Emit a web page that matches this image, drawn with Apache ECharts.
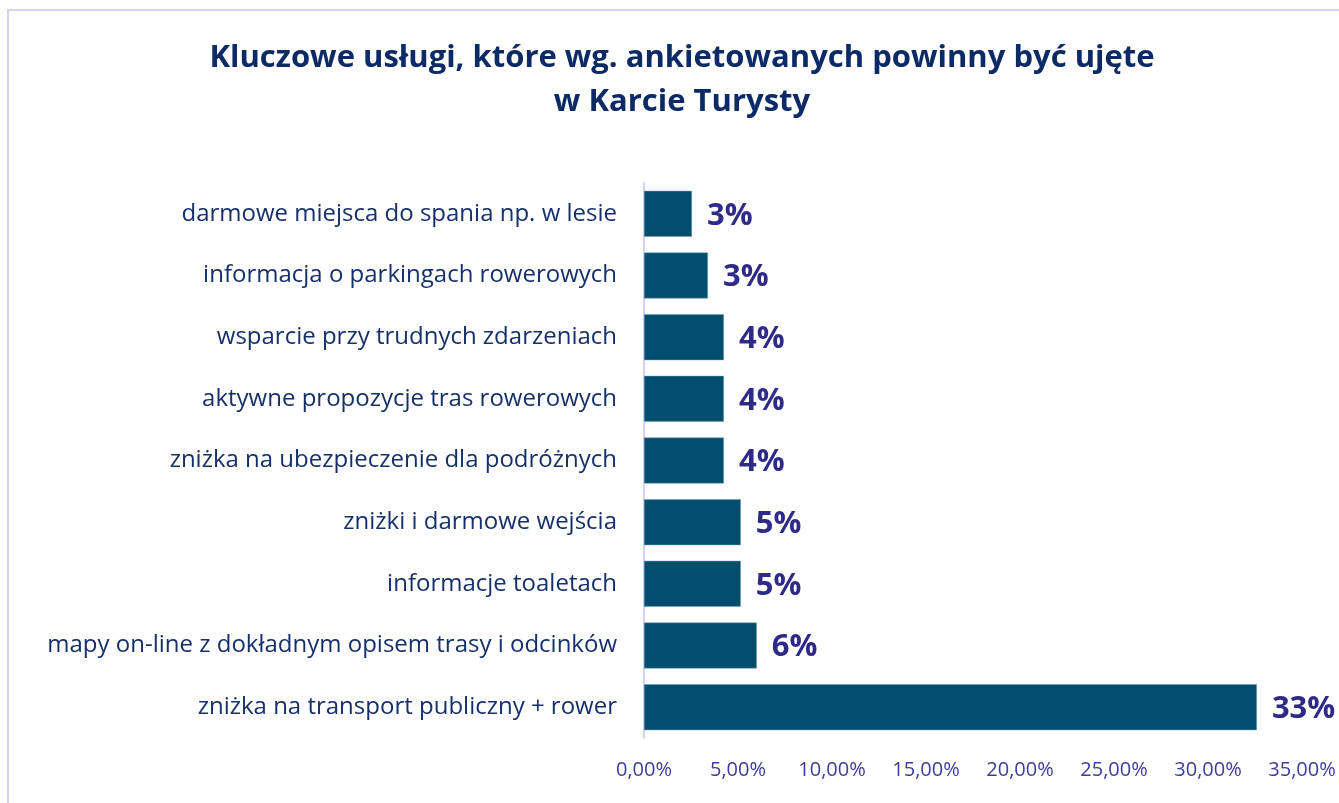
<!DOCTYPE html>
<html>
<head>
<meta charset="utf-8">
<script src="https://cdn.jsdelivr.net/npm/echarts@6/dist/echarts.min.js"></script>
<style>
  html, body { margin: 0; padding: 0; width: 1339px; height: 803px; overflow: hidden; background: #fff; }
  #frame { position: absolute; left: 7px; top: 9px; width: 1400px; height: 900px; border: 2px solid #d4d2f0; box-sizing: border-box; }
  #main { position: absolute; left: 0; top: 0; width: 1339px; height: 803px; }
</style>
</head>
<body>
<div id="frame"></div>
<div id="main"></div>
<script>
// kategorie od góry do dołu
const categories = [
  "darmowe miejsca do spania np. w lesie",
  "informacja o parkingach rowerowych",
  "wsparcie przy trudnych zdarzeniach",
  "aktywne propozycje tras rowerowych",
  "zniżka na ubezpieczenie dla podróżnych",
  "zniżki i darmowe wejścia",
  "informacje toaletach",
  "mapy on-line z dokładnym opisem trasy i odcinków",
  "zniżka na transport publiczny + rower"
];
// udział odpowiedzi w %
const values = [2.55, 3.4, 4.25, 4.25, 4.25, 5.15, 5.15, 6.0, 32.6];
const tickLabels = ["0,00%", "5,00%", "10,00%", "15,00%", "20,00%", "25,00%", "30,00%", "35,00%"];

const chart = echarts.init(document.getElementById("main"));

const option = {
  animation: false,
  title: {
    text: "Kluczowe usługi, które wg. ankietowanych powinny być ujęte\nw Karcie Turysty",
    left: 677,
    textAlign: "center",
    top: 31,
    textStyle: {
      fontFamily: "Open Sans",
      fontWeight: "bold",
      fontSize: 31,
      lineHeight: 44,
      color: "#0c2a66"
    }
  },
  grid: { left: 644, right: 37, top: 183, bottom: 65 },
  xAxis: {
    type: "value",
    min: 0,
    max: 35,
    interval: 5,
    axisLine: { show: false },
    axisTick: { show: false },
    splitLine: { show: false },
    axisLabel: {
      margin: 22,
      fontFamily: "Open Sans",
      fontSize: 20,
      color: "#3c3c9e",
      formatter: (v) => tickLabels[Math.round(v / 5)]
    }
  },
  yAxis: {
    type: "category",
    inverse: true,
    data: categories,
    axisLine: { show: true, lineStyle: { color: "#d4d2f0", width: 2 } },
    axisTick: { show: false },
    axisLabel: {
      margin: 27,
      fontFamily: "Open Sans",
      fontSize: 24,
      color: "#16306a"
    }
  },
  series: [
    {
      type: "bar",
      data: values,
      barWidth: 46,
      itemStyle: { color: "#034e6e", borderColor: "#6f9fb5", borderWidth: 0.5 },
      label: {
        show: true,
        position: "right",
        distance: 15,
        offset: [0, 2],
        fontFamily: "Open Sans",
        fontWeight: "bold",
        fontSize: 31,
        color: "#2e2a87",
        formatter: (p) => Math.round(p.value) + "%"
      }
    }
  ]
};

chart.setOption(option);
</script>
</body>
</html>
